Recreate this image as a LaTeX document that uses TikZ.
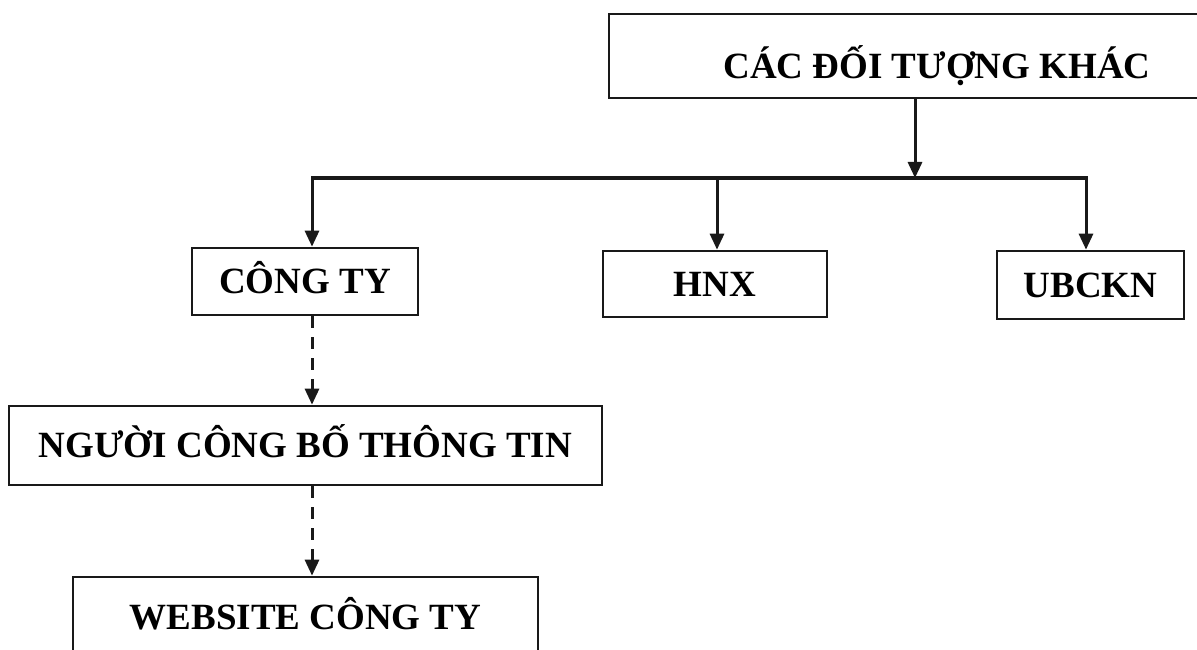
\documentclass[tikz,border=0pt]{standalone}
\usepackage{fontspec}
\setmainfont{Liberation Serif}
\usetikzlibrary{arrows.meta}
\begin{document}
\begin{tikzpicture}[x=1pt,y=-1pt,
  box/.style={draw=black!90, line width=2.7pt, inner sep=0pt,
    font=\fontsize{37}{40}\selectfont\bfseries, text height=24.5pt, text depth=0pt},
  solidarrow/.style={draw=black!90, line width=3pt, -{Triangle[length=16pt,width=14pt]}},
  dasharrow/.style={draw=black!90, line width=3pt, dash pattern=on 12pt off 9pt, -{Triangle[length=16pt,width=14pt]}}
]
\useasboundingbox (0,0) rectangle (1197,650);
\clip (0,0) rectangle (1197,650);
\fill[white] (0,0) rectangle (1197,650);
\node[box, minimum width=656pt, minimum height=84pt, text height=46pt] (top) at (937,56) {CÁC ĐỐI TƯỢNG KHÁC};
\node[box, minimum width=226pt, minimum height=67pt] (cong) at (305,281.5) {CÔNG TY};
\node[box, minimum width=224pt, minimum height=66pt] (hnx) at (715,284) {HNX};
\node[box, minimum width=187pt, minimum height=68pt] (ubck) at (1090.5,285) {UBCKN};
\node[box, minimum width=593pt, minimum height=79pt] (nguoi) at (305.5,445.5) {NGƯỜI CÔNG BỐ THÔNG TIN};
\node[box, minimum width=465pt, minimum height=80pt] (web) at (305.5,617) {WEBSITE CÔNG TY};
\coordinate (j) at (915,178);
\coordinate (jl) at (312,178);
\coordinate (jm) at (717,178);
\coordinate (jr) at (1086,178);
\draw[solidarrow] (top.south -| j) -- (j);
\draw[solidarrow] (j) -- (jl) -- (cong.north -| jl);
\draw[solidarrow] (j) -- (jr) -- (ubck.north -| jr);
\draw[solidarrow] (jm) -- (hnx.north -| jm);
\draw[dasharrow] (cong.south -| jl) -- (nguoi.north -| jl);
\draw[dasharrow] (nguoi.south -| jl) -- (web.north -| jl);
\end{tikzpicture}
\end{document}
